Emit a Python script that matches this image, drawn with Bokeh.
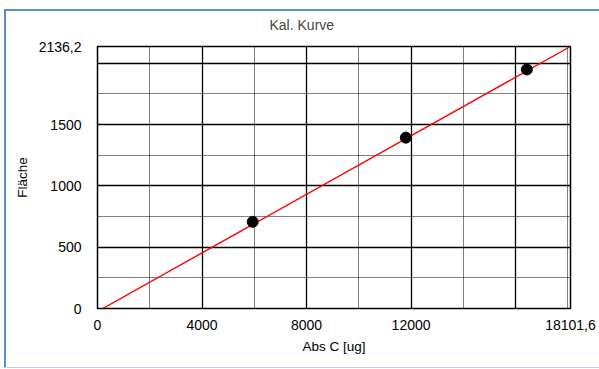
from bokeh.plotting import figure
from bokeh.models import FixedTicker, Range1d
from bokeh.embed import file_html
from bokeh.resources import INLINE

# data
conc = [5940, 11800, 16430]
area = [707, 1393, 1949]
fit_x = [200, 18101.6]
fit_y = [0, 2136.2]

x_ticks = [0, 4000, 8000, 12000, 18101.6]
x_labels = {18101.6: "18101,6"}
y_ticks = [0, 500, 1000, 1500, 2136.2]
y_labels = {2136.2: "2136,2"}
x_grid_major = [0, 4000, 8000, 12000, 16000]
x_grid_minor = [2000, 6000, 10000, 14000, 18000]
y_grid_major = [0, 500, 1000, 1500, 2000]
y_grid_minor = [250, 750, 1250, 1750]

FONT = "Liberation Sans"

p = figure(width=599, height=369, output_backend="svg", toolbar_location=None,
           x_range=Range1d(0, 18101.6), y_range=Range1d(0, 2136.2),
           min_border_left=97, min_border_top=46, min_border_right=29, min_border_bottom=61)
p.title.text = "Kal. Kurve"
p.title.align = "left"
p.title.offset = 172
p.title.text_font = FONT
p.title.text_font_size = "14px"
p.title.text_font_style = "normal"
p.title.standoff = 28

p.border_fill_color = None
p.background_fill_color = "white"
p.outline_line_color = "black"
p.outline_line_width = 1.5
p.outline_line_alpha = 1

for ax in (p.xaxis[0], p.yaxis[0]):
    ax.axis_line_color = None
    ax.major_tick_line_color = None
    ax.minor_tick_line_color = None
    ax.major_label_text_font = FONT
    ax.major_label_text_font_size = "14px"
    ax.major_label_text_color = "black"
    ax.axis_label_text_font = FONT
    ax.axis_label_text_font_size = "13.5px"
    ax.axis_label_text_font_style = "normal"
    ax.axis_label_text_color = "black"

p.xaxis.ticker = FixedTicker(ticks=x_ticks)
p.xaxis.major_label_overrides = x_labels
p.xaxis.axis_label = "Abs C [ug]"
p.xaxis.major_label_standoff = 5
p.xaxis.axis_label_standoff = 6

p.yaxis.ticker = FixedTicker(ticks=y_ticks)
p.yaxis.major_label_overrides = y_labels
p.yaxis.axis_label = "Fläche"
p.yaxis.major_label_standoff = 10
p.yaxis.axis_label_standoff = 6

p.xgrid.ticker = FixedTicker(ticks=x_grid_major, minor_ticks=x_grid_minor)
p.ygrid.ticker = FixedTicker(ticks=y_grid_major, minor_ticks=y_grid_minor)
for g in (p.xgrid[0], p.ygrid[0]):
    g.grid_line_color = "black"
    g.grid_line_width = 1.3
    g.grid_line_alpha = 1
    g.minor_grid_line_color = "black"
    g.minor_grid_line_width = 1
    g.minor_grid_line_dash = "1 1"

p.line(fit_x, fit_y, line_color="#ff0000", line_width=1.4)
p.scatter(conc, area, size=11, fill_color="black", line_color="black")

# chart-area border: blue on left/top, pale blue at the bottom
p.styles = {
    "background-color": "white",
    "box-shadow": ("inset 4px 9px 0 0 #ffffff, inset 0 -1px 0 0 #ffffff, "
                   "inset 0 -2px 0 0 #bccfea, inset 6px 11px 0 0 #5b8dd0"),
}

open("out.html", "w").write(file_html(p, INLINE))
